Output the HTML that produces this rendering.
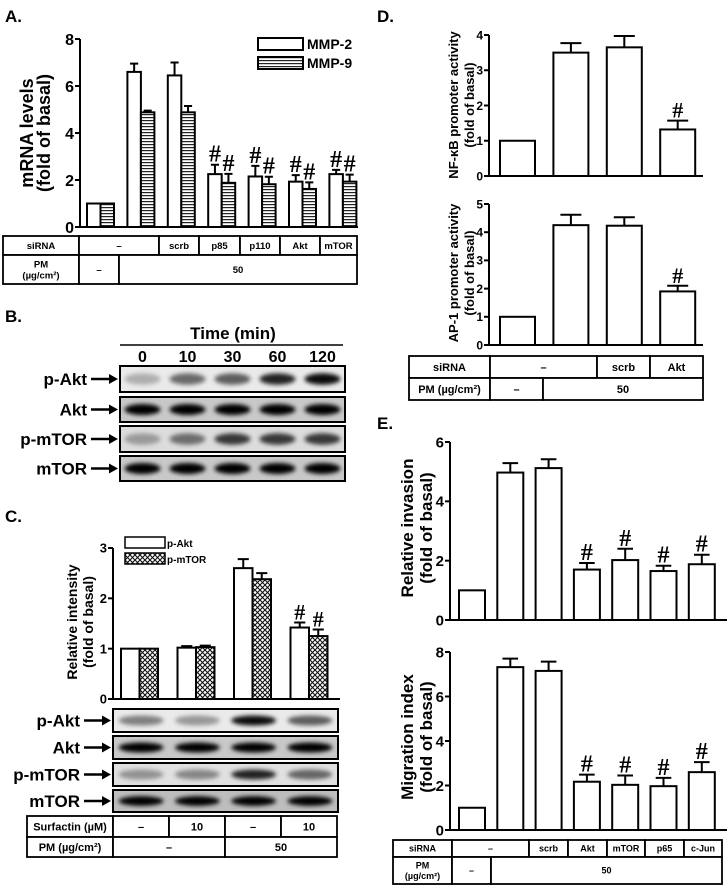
<!DOCTYPE html>
<html><head><meta charset="utf-8"><style>
html,body{margin:0;padding:0;background:#fff;}
svg{display:block;font-family:"Liberation Sans",Arial,sans-serif;}
text{font-weight:bold;}
</style></head><body>
<svg id="fig" width="727" height="889" viewBox="0 0 727 889" xmlns="http://www.w3.org/2000/svg">
<defs>
<pattern id="stripes" width="4" height="3" patternUnits="userSpaceOnUse"><rect width="4" height="3" fill="#fff"/><rect width="4" height="1.2" fill="#222"/></pattern>
<pattern id="cross" width="5" height="5" patternUnits="userSpaceOnUse"><rect width="5" height="5" fill="#fff"/><path d="M0 0L5 5M5 0L0 5" stroke="#111" stroke-width="1.1"/></pattern>
<filter id="blur" x="-30%" y="-60%" width="160%" height="220%"><feGaussianBlur stdDeviation="2.2"/></filter>
</defs>
<text x="5" y="22" font-size="17">A.</text>
<text x="5" y="322" font-size="17">B.</text>
<text x="5" y="522" font-size="17">C.</text>
<text x="377" y="22" font-size="17">D.</text>
<text x="377" y="429" font-size="17">E.</text>
</svg>
<script>
// ---- Panel A data ----
const aCats=['ctrl','PM','scrb','p85','p110','Akt','mTOR'];
const aMMP2=[1,6.6,6.45,2.25,2.15,1.93,2.25];
const aMMP2err=[0,0.35,0.55,0.4,0.45,0.28,0.18];
const aMMP9=[1,4.88,4.88,1.88,1.82,1.62,1.93];
const aMMP9err=[0,0.07,0.27,0.38,0.32,0.28,0.3];
const aSig=[0,0,0,1,1,1,1];
const aTicks=[0,2,4,6,8];
// ---- Panel C data ----
const cCats=['ctrl','surf','PM','PM+surf'];
const cPAkt=[1,1.02,2.6,1.42];
const cPAktErr=[0,0.03,0.18,0.1];
const cPmTOR=[1,1.03,2.38,1.25];
const cPmTORErr=[0,0.03,0.12,0.13];
const cSig=[0,0,0,1];
const cTicks=[0,1,2,3];
// ---- Panel D data ----
const dCats=['ctrl','PM','scrb','Akt'];
const dNFkB=[1,3.5,3.65,1.32];
const dNFkBErr=[0,0.27,0.32,0.25];
const dAP1=[1,4.25,4.23,1.9];
const dAP1Err=[0,0.37,0.3,0.2];
const dSig=[0,0,0,1];
const dTicksNF=[0,1,2,3,4];
const dTicksAP=[0,1,2,3,4,5];
// ---- Panel E data ----
const eCats=['ctrl','PM','scrb','Akt','mTOR','p65','c-Jun'];
const eInv=[1,4.97,5.12,1.7,2.02,1.65,1.88];
const eInvErr=[0,0.32,0.3,0.22,0.38,0.18,0.32];
const eMig=[1,7.32,7.15,2.17,2.03,1.97,2.6];
const eMigErr=[0,0.38,0.42,0.32,0.42,0.37,0.45];
const eSig=[0,0,0,1,1,1,1];
const eTicksInv=[0,2,4,6];
const eTicksMig=[0,2,4,6,8];
// ---- blot intensities ----
const bTimes=['0','10','30','60','120'];
const bPAkt=[0.25,0.55,0.6,0.85,0.95];
const bAkt=[1,1,1,1,1];
const bPmTOR=[0.3,0.5,0.75,0.75,0.75];
const bmTOR=[1,1,1,1,1];
const cbPAkt=[0.45,0.35,0.95,0.6];
const cbAkt=[1,1,1,1];
const cbPmTOR=[0.35,0.4,0.85,0.55];
const cbmTOR=[1,1,1,1];

const svg=document.getElementById('fig');
const NS='http://www.w3.org/2000/svg';
function mk(tag,attrs,parent){const e=document.createElementNS(NS,tag);for(const k in attrs)e.setAttribute(k,attrs[k]);(parent||svg).appendChild(e);return e;}
function txt(x,y,s,size,anchor,extra){const e=mk('text',Object.assign({x:x,y:y,'font-size':size,'text-anchor':anchor||'middle'},extra||{}));e.textContent=s;return e;}

function axes(c,ticks,name){
  const ys=v=>c.y0-(v/c.ymax)*(c.y0-c.ytop);
  const g=mk('g',{});
  
  
  mk('line',{x1:c.x0,y1:c.ytop,x2:c.x0,y2:c.y0,stroke:'#000','stroke-width':2},g);
  mk('line',{x1:c.x0,y1:c.y0,x2:c.xEnd,y2:c.y0,stroke:'#000','stroke-width':2},g);
  ticks.forEach(t=>{
    mk('line',{x1:c.x0-5,y1:ys(t),x2:c.x0,y2:ys(t),stroke:'#000','stroke-width':2},g);
    const l=txt(c.x0-6,ys(t)+c.fs*0.36,String(t),c.fs,'end');
    
    
  });
  return ys;
}
function series(c,ys,vals,errs,sig,off,fill,name){
  vals.forEach((v,i)=>{
    const x=c.gx+i*c.step+off, w=c.bw, top=ys(v);
    const r=mk('rect',{x:x,y:top,width:w,height:c.y0-top,fill:fill,stroke:'#000','stroke-width':2});
    
    
    if(errs[i]>0){
      const et=ys(v+errs[i]), cx=x+w/2;
      const e=mk('path',{d:`M${cx} ${top}V${et}M${cx-w*0.3} ${et}H${cx+w*0.3}`,stroke:'#000','stroke-width':2,fill:'none'});
      
      
    }
    if(sig[i]){
      const h=txt(x+w/2,ys(v+errs[i])-3,'#',c.hs,'middle',{'font-family':'"Liberation Serif",serif','font-weight':'normal'});
      
      
    }
  });
}
function ylabel(x,y,lines,size,gap,name){
  lines.forEach((s,i)=>{
    const t=txt(0,0,s,size,'middle',{transform:`translate(${x+i*gap},${y}) rotate(-90)`});
    
    
  });
}
function table(rows,fs,name){
  rows.forEach(r=>{
    r.cells.forEach(cl=>{
      const rc=mk('rect',{x:cl[0],y:r.y1,width:cl[1]-cl[0],height:r.y2-r.y1,fill:'#fff',stroke:'#000','stroke-width':1.8});
      
      
      const ls=String(cl[2]).split('|');
      ls.forEach((s,k)=>{
        const t=txt((cl[0]+cl[1])/2,(r.y1+r.y2)/2+fs*0.36+(k-(ls.length-1)/2)*fs*1.15,s,fs);
        
        
      });
    });
  });
}
function blot(x1,x2,y1,y2,ints,bg,label,name){
  const g=mk('g',{});
  
  
  mk('rect',{x:x1,y:y1,width:x2-x1,height:y2-y1,fill:bg,stroke:'#000','stroke-width':2},g);
  const lw=(x2-x1)/ints.length;
  ints.forEach((v,i)=>{
    const b=mk('ellipse',{cx:x1+lw*(i+0.5),cy:(y1+y2)/2,rx:lw*0.4,ry:(y2-y1)*0.22,fill:'#000','fill-opacity':v,filter:'url(#blur)'},g);
    
    
  });
  const t=txt(x1-33,(y1+y2)/2+6,label,17,'end');
  
  
  const a=mk('path',{d:`M${x1-29} ${(y1+y2)/2}H${x1-8}`,stroke:'#000','stroke-width':2.5});
  
  
  const ah=mk('path',{d:`M${x1-11} ${(y1+y2)/2-5}L${x1-2} ${(y1+y2)/2}L${x1-11} ${(y1+y2)/2+5}Z`,fill:'#000'});
  
  
}

// Panel A
const cA={x0:80,y0:227,ytop:39,ymax:8,xEnd:358,gx:87,step:40.4,bw:13.5,fs:16,hs:24};
const ysA=axes(cA,aTicks,'panel-a');
series(cA,ysA,aMMP2,aMMP2err,aSig,0,'#fff','mmp2');
series(cA,ysA,aMMP9,aMMP9err,aSig,13.5,'url(#stripes)','mmp9');
ylabel(33,133,['mRNA levels','(fold of basal)'],18,17,'panel-a-y-axis-title');
[['MMP-2','#fff',38],['MMP-9','url(#stripes)',57]].forEach(l=>{
  const r=mk('rect',{x:258,y:l[2],width:45,height:12,fill:l[1],stroke:'#000','stroke-width':2});
  
  
  const t=txt(307,l[2]+11,l[0],14,'start');
  
  
});
table([{y1:236,y2:255,cells:[[3,79,'siRNA'],[79,159,'–'],[159,199,'scrb'],[199,240,'p85'],[240,280,'p110'],[280,320,'Akt'],[320,357,'mTOR']]},
       {y1:255,y2:284,cells:[[3,79,'PM|(µg/cm²)'],[79,119,'–'],[119,357,'50']]}],9.5,'panel-a-table');

// Panel B
txt(233,339,'Time (min)',17);
mk('line',{x1:120,y1:345,x2:343,y2:345,stroke:'#000','stroke-width':1.5});
bTimes.forEach((s,i)=>{const t=txt(142.5+i*45,362,s,16);});
blot(120,345,366,392,bPAkt,'#eaeaea','p-Akt','b-blot-p-akt');
blot(120,345,397,422,bAkt,'#c8c8c8','Akt','b-blot-akt');
blot(120,345,426,452,bPmTOR,'#dcdcdc','p-mTOR','b-blot-p-mtor');
blot(120,345,456,481,bmTOR,'#c8c8c8','mTOR','b-blot-mtor');

// Panel C
const cC={x0:113,y0:699,ytop:548,ymax:3,xEnd:340,gx:121,step:56.5,bw:18.5,fs:13,hs:22};
const ysC=axes(cC,cTicks,'panel-c');
series(cC,ysC,cPAkt,cPAktErr,cSig,0,'#fff','p-akt');
series(cC,ysC,cPmTOR,cPmTORErr,cSig,18.5,'url(#cross)','p-mtor');
ylabel(77,622,['Relative intensity','(fold of basal)'],14,16,'panel-c-y-axis-title');
[['p-Akt','#fff',537],['p-mTOR','url(#cross)',553]].forEach(l=>{
  const r=mk('rect',{x:125,y:l[2],width:40,height:11,fill:l[1],stroke:'#000','stroke-width':1.5});
  
  
  const t=txt(167,l[2]+10,l[0],10,'start');
  
  
});
blot(113,338,709,732,cbPAkt,'#eaeaea','p-Akt','c-blot-p-akt');
blot(113,338,736,759,cbAkt,'#c8c8c8','Akt','c-blot-akt');
blot(113,338,763,786,cbPmTOR,'#e0e0e0','p-mTOR','c-blot-p-mtor');
blot(113,338,790,812,cbmTOR,'#bdbdbd','mTOR','c-blot-mtor');
table([{y1:816,y2:837,cells:[[27,113,'Surfactin (µM)'],[113,169,'–'],[169,225,'10'],[225,281,'–'],[281,337,'10']]},
       {y1:837,y2:857,cells:[[27,113,'PM (µg/cm²)'],[113,225,'–'],[225,337,'50']]}],11,'panel-c-table');

// Panel D
const cD1={x0:489,y0:176,ytop:35,ymax:4,xEnd:703,gx:500,step:53.4,bw:35,fs:12,hs:22};
const ysD1=axes(cD1,dTicksNF,'panel-d-nfkb');
series(cD1,ysD1,dNFkB,dNFkBErr,dSig,0,'#fff','nfkb');
ylabel(458,105,['NF-κB promoter activity','(fold of basal)'],13,16,'panel-d-nfkb-y-axis-title');
const cD2={x0:489,y0:345,ytop:204,ymax:5,xEnd:703,gx:500,step:53.4,bw:35,fs:12,hs:22};
const ysD2=axes(cD2,dTicksAP,'panel-d-ap1');
series(cD2,ysD2,dAP1,dAP1Err,dSig,0,'#fff','ap1');
ylabel(458,273,['AP-1 promoter activity','(fold of basal)'],13,16,'panel-d-ap1-y-axis-title');
table([{y1:356,y2:378,cells:[[409,490,'siRNA'],[490,597,'–'],[597,650,'scrb'],[650,703,'Akt']]},
       {y1:378,y2:400,cells:[[409,490,'PM (µg/cm²)'],[490,543,'–'],[543,703,'50']]}],11,'panel-d-table');

// Panel E
const cE1={x0:450,y0:620,ytop:442,ymax:6,xEnd:727,gx:459,step:38.3,bw:26,fs:15,hs:24};
const ysE1=axes(cE1,eTicksInv,'panel-e-invasion');
series(cE1,ysE1,eInv,eInvErr,eSig,0,'#fff','invasion');
ylabel(413,528,['Relative invasion','(fold of basal)'],17,19,'panel-e-invasion-y-axis-title');
const cE2={x0:450,y0:830,ytop:652,ymax:8,xEnd:727,gx:459,step:38.3,bw:26,fs:15,hs:24};
const ysE2=axes(cE2,eTicksMig,'panel-e-migration');
series(cE2,ysE2,eMig,eMigErr,eSig,0,'#fff','migration');
ylabel(413,737,['Migration index','(fold of basal)'],17,19,'panel-e-migration-y-axis-title');
table([{y1:840,y2:857,cells:[[393,452,'siRNA'],[452,529,'–'],[529,568,'scrb'],[568,607,'Akt'],[607,645,'mTOR'],[645,684,'p65'],[684,722,'c-Jun']]},
       {y1:857,y2:884,cells:[[393,452,'PM|(µg/cm²)'],[452,491,'–'],[491,722,'50']]}],9,'panel-e-table');
</script>
</body></html>
